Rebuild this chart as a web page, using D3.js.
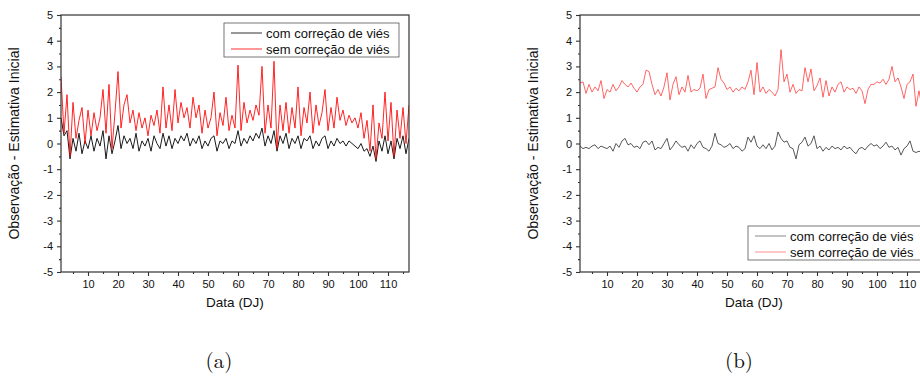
<!DOCTYPE html>
<html>
<head>
<meta charset="utf-8">
<script src="https://cdn.jsdelivr.net/npm/d3@7"></script>
<style>
  body { margin: 0; background: #fff; }
  svg text { font-family: "Liberation Sans", Arial, sans-serif; fill: #111; }
  .caption { font-family: "Latin Modern Roman", "DejaVu Serif", "Liberation Serif", serif; }
</style>
</head>
<body>
<div id="chart"></div>
<script>
// days 1..117
const days = d3.range(1, 118);

// panel (a)
const comViesA = [
  1.0, 0.3, 0.5, -0.6, 0.2, -0.3, 0.4, -0.4, 0.1, -0.2,
  0.3, -0.3, 0.2, -0.1, 0.5, -0.6, 0.3, -0.4, 0.1, 0.7,
  -0.2, 0.3, 0.0, 0.2, -0.2, 0.4, -0.3, 0.1, -0.1, 0.2,
  -0.3, 0.3, 0.0, -0.2, 0.4, -0.1, 0.3, -0.2, 0.2, 0.0,
  0.3, 0.1, 0.4, -0.1, 0.2, 0.0, 0.3, -0.2, 0.1, -0.1,
  0.2, 0.3, -0.3, 0.1, 0.0, 0.2, -0.2, 0.1, 0.0, 0.5,
  -0.1, 0.2, 0.0, 0.3, 0.1, 0.4, 0.2, 0.6, -0.1, 0.3,
  0.0, 0.5, -0.3, 0.3, 0.0, 0.4, -0.2, 0.2, 0.0, 0.3,
  -0.2, 0.2, 0.1, 0.3, -0.2, 0.1, -0.1, 0.2, 0.3, -0.2,
  0.1, -0.1, 0.2, 0.0, 0.1, -0.1, 0.1, 0.0, -0.1, -0.2,
  0.0, -0.3, -0.2, -0.5, -0.1, -0.7, 0.1, -0.3, 0.3, -0.4,
  0.1, -0.6, 0.2, -0.2, 0.3, -0.4, 0.2
];
const semViesA = [
  2.6, 0.4, 1.9, -0.5, 1.6, 0.2, 0.9, 1.4, 0.0, 1.3,
  0.3, 1.2, 0.5, 1.0, 2.1, 0.4, 2.3, -0.2, 1.2, 2.8,
  0.6, 1.5, 1.9, 0.8, 1.3, 0.5, 1.2, 0.6, 1.0, 0.3,
  1.1, 0.7, 1.3, 0.4, 2.2, 0.6, 1.5, 0.5, 2.1, 0.8,
  1.6, 1.0, 1.4, 0.6, 1.8, 1.0, 1.5, 0.4, 1.3, 0.6,
  1.0, 2.0, 0.3, 1.2, 0.7, 1.8, 0.5, 1.1, 0.6, 3.05,
  0.5, 1.6, 0.8, 1.3, 0.9, 1.5, 1.1, 3.0, 0.4, 1.5,
  0.6, 3.2, -0.2, 1.5, 0.5, 1.6, 0.4, 1.4, 0.6, 2.2,
  0.3, 1.4, 0.8, 2.0, 0.4, 1.5, 0.7, 1.2, 2.1, 0.5,
  1.4, 0.6, 1.8, 0.9, 1.3, 0.7, 1.1, 0.8, 1.0, 0.6,
  1.2, 0.2, 0.9, -0.3, 1.5, -0.6, 0.8, 0.2, 2.0, 0.1,
  1.6, -0.5, 1.3, 0.2, 1.4, 0.0, 1.5
];

// panel (b)
const comViesB = [
  -0.1, -0.2, -0.15, -0.2, -0.1, -0.05, -0.2, -0.1, -0.15, -0.2,
  -0.1, -0.3, 0.0, -0.15, 0.1, 0.2, -0.05, 0.0, -0.15, -0.1,
  -0.2, 0.05, 0.1, -0.05, 0.1, -0.25, -0.15, -0.2, 0.0, 0.2,
  -0.25, -0.1, 0.1, -0.05, -0.15, -0.1, -0.3, -0.05, -0.2, 0.0,
  0.1, -0.15, -0.2, -0.3, -0.1, 0.4, 0.0, -0.05, -0.15, -0.1,
  0.0, -0.2, -0.1, -0.15, -0.3, -0.2, 0.25, 0.05, 0.3, -0.1,
  -0.2, -0.05, -0.2, 0.0, -0.25, -0.1, 0.45, 0.2, 0.05, 0.1,
  -0.15, -0.2, -0.6, -0.05, 0.05, 0.25, -0.1, 0.0, 0.3, -0.2,
  -0.1, -0.3, -0.15, -0.25, -0.1, -0.2, -0.15, -0.25, -0.1, -0.2,
  -0.15, -0.3, -0.4, -0.2, -0.15, -0.25, -0.1, 0.0, -0.1, -0.05,
  -0.2, -0.1, 0.05, -0.15, -0.1, -0.25, -0.15, -0.45, -0.2, -0.1,
  0.1, -0.3, -0.35, -0.3, -0.35, -0.25, -0.3
];
const semViesB = [
  2.35, 2.4, 1.95, 2.3, 2.0, 2.2, 2.05, 2.45, 1.75, 2.1,
  2.0, 2.3, 2.05, 2.2, 2.45, 2.3, 2.2, 2.35, 2.15, 2.0,
  2.2, 2.3, 2.85, 2.8, 2.3, 1.9, 2.1, 1.85, 2.2, 2.75,
  1.7, 2.3, 2.6, 1.9, 2.2, 2.0, 2.65, 2.0, 2.1, 2.05,
  2.15, 2.7, 1.75, 2.1, 2.15, 2.2, 2.95, 2.5, 2.35, 2.1,
  2.2, 2.0, 2.15, 2.05, 2.2, 2.1, 2.4, 2.85, 1.9, 3.15,
  2.0, 2.2, 1.95, 2.1, 2.0, 1.85, 2.1, 3.65, 2.4, 2.7,
  2.0, 2.3, 1.95, 2.1, 2.05, 2.95, 2.4, 2.9, 2.05, 2.25,
  2.55, 1.8, 2.45, 1.85, 2.2, 2.0, 2.3, 2.4, 2.0, 2.2,
  2.1, 2.15, 1.95, 2.2, 2.05, 1.55, 2.1, 2.3, 2.3, 2.4,
  2.35, 2.5, 2.3, 2.5, 3.0, 2.4, 2.55, 2.2, 1.75, 2.3,
  2.4, 2.7, 1.45, 2.05, 1.4, 2.2, 1.9
];

const seriesNames = ['com correção de viés', 'sem correção de viés'];
const yTicks = [-5, -4, -3, -2, -1, 0, 1, 2, 3, 4, 5];
const xTicks = [10, 20, 30, 40, 50, 60, 70, 80, 90, 100, 110];

const W = 920, H = 376;
const svg = d3.select('#chart').append('svg')
  .attr('width', W)
  .attr('height', H);

const plotW = 348, plotTop = 15, plotBottom = 272;

function panel(opts) {
  const x0 = opts.left;
  const x = d3.scaleLinear().domain([1, 117]).range([x0, x0 + plotW]);
  const y = d3.scaleLinear().domain([-5, 5]).range([plotBottom, plotTop]);
  const g = svg.append('g');

  const clipId = 'clip-' + opts.id;
  g.append('clipPath').attr('id', clipId)
    .append('rect')
    .attr('x', x0).attr('y', plotTop)
    .attr('width', plotW).attr('height', plotBottom - plotTop);

  const line = d3.line()
    .x((d, i) => x(days[i]))
    .y(d => y(d));

  const lines = g.append('g').attr('clip-path', 'url(#' + clipId + ')');
  lines.append('path')
    .datum(opts.com)
    .attr('fill', 'none')
    .attr('stroke', opts.comColor)
    .attr('stroke-width', opts.lw)
    .attr('stroke-linejoin', 'round')
    .attr('d', line);
  lines.append('path')
    .datum(opts.sem)
    .attr('fill', 'none')
    .attr('stroke', opts.semColor)
    .attr('stroke-width', opts.lw)
    .attr('stroke-opacity', opts.semOpacity)
    .attr('stroke-linejoin', 'round')
    .attr('d', line);

  // frame
  g.append('rect')
    .attr('x', x0).attr('y', plotTop)
    .attr('width', plotW).attr('height', plotBottom - plotTop)
    .attr('fill', 'none')
    .attr('stroke', '#333')
    .attr('stroke-width', 1.2);

  // y axis, major + minor ticks outward
  const yAxis = g.append('g').attr('transform', 'translate(' + x0 + ',0)');
  yAxis.call(d3.axisLeft(y).tickValues(yTicks).tickSize(4).tickPadding(4).tickFormat(d => String(d)));
  yAxis.append('g').call(d3.axisLeft(y).tickValues(d3.range(-4.5, 5, 1)).tickSize(2).tickFormat(''));
  yAxis.selectAll('.domain').remove();
  yAxis.selectAll('line').attr('stroke', '#333').attr('stroke-width', 1.1);
  yAxis.selectAll('text').style('font-size', '11px').attr('fill', '#111');

  const xAxis = g.append('g').attr('transform', 'translate(0,' + plotBottom + ')');
  xAxis.call(d3.axisBottom(x).tickValues(xTicks).tickSize(4).tickPadding(4));
  xAxis.append('g').call(d3.axisBottom(x).tickValues(d3.range(5, 117, 10)).tickSize(2).tickFormat(''));
  xAxis.selectAll('.domain').remove();
  xAxis.selectAll('line').attr('stroke', '#333').attr('stroke-width', 1.1);
  xAxis.selectAll('text').style('font-size', '11px').attr('fill', '#111');

  // axis titles
  g.append('text')
    .attr('transform', 'translate(' + (x0 - 42) + ',' + ((plotTop + plotBottom) / 2) + ') rotate(-90)')
    .attr('text-anchor', 'middle')
    .style('font-size', '14px')
    .text('Observação - Estimativa Inicial');
  g.append('text')
    .attr('x', x0 + 174).attr('y', 307)
    .attr('text-anchor', 'middle')
    .style('font-size', '13.5px')
    .text('Data (DJ)');

  // legend
  const lg = g.append('g').attr('transform', 'translate(' + opts.legX + ',' + opts.legY + ')');
  lg.append('rect')
    .attr('width', opts.legW).attr('height', 34)
    .attr('fill', '#fff')
    .attr('stroke', '#555')
    .attr('stroke-width', 0.8);
  const colors = [opts.legCom, opts.legSem];
  seriesNames.forEach((name, i) => {
    const cy = 10 + i * 16;
    lg.append('line')
      .attr('x1', 7).attr('x2', 38)
      .attr('y1', cy).attr('y2', cy)
      .attr('stroke', colors[i]).attr('stroke-width', 1);
    lg.append('text')
      .attr('x', 42).attr('y', cy + 4.5)
      .style('font-size', '13px')
      .text(name);
  });

  svg.append('text')
    .attr('class', 'caption')
    .attr('x', opts.capX).attr('y', 368)
    .attr('text-anchor', 'middle')
    .style('font-size', '21px')
    .text(opts.caption);
}

panel({
  id: 'a', left: 61, com: comViesA, sem: semViesA,
  comColor: '#1a1a1a', semColor: '#ff0000', semOpacity: 0.85, lw: 1,
  legX: 224, legY: 23, legW: 175, legCom: '#333', legSem: '#ff3030',
  capX: 219, caption: '(a)'
});
panel({
  id: 'b', left: 580, com: comViesB, sem: semViesB,
  comColor: '#444', semColor: '#ff2a2a', semOpacity: 0.8, lw: 0.9,
  legX: 748, legY: 226, legW: 180, legCom: '#888', legSem: '#ff9090',
  capX: 739, caption: '(b)'
});
</script>
</body>
</html>
